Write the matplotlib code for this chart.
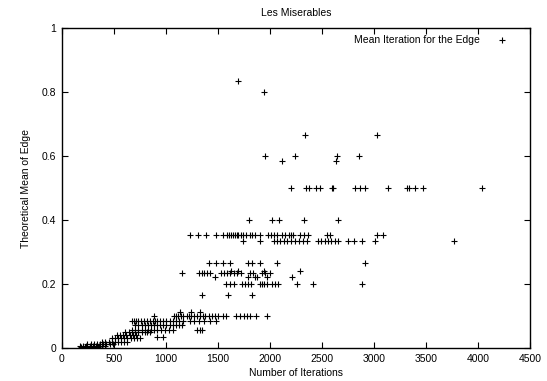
import matplotlib
matplotlib.use("Agg")
import matplotlib.pyplot as plt

plt.rcParams["font.family"] = ["Liberation Sans", "DejaVu Sans"]

# 每一行：同一个理论均值下的迭代次数
rows = {
    0.833: [1690],
    0.8: [1940],
    0.667: [2340, 3030],
    0.6: [1950, 2240, 2645, 2860],
    0.583: [2120, 2630],
    0.5: [2200, 2345, 2375, 2445, 2485, 2595, 2610, 2820, 2865, 2915,
          3130, 3320, 3340, 3395, 3475, 4040],
    0.4: [1800, 2015, 2085, 2325, 2655],
    0.353: [1230, 1305, 1385, 1485, 1550, 1585, 1610, 1630, 1645, 1660,
            1680, 1695, 1720, 1740, 1770, 1810, 1830, 1860, 1905, 1985,
            2010, 2035, 2065, 2115, 2145, 2180, 2200, 2225, 2290, 2325,
            2365, 2550, 2580, 3030, 3085],
    0.333: [1740, 1905, 2035, 2065, 2095, 2135, 2165, 2200, 2240, 2280,
            2320, 2355, 2460, 2495, 2525, 2555, 2590, 2625, 2655, 2750,
            2810, 2885, 3010, 3770],
    0.267: [1410, 1485, 1550, 1620, 1790, 1825, 1905, 2065, 2910],
    0.24: [1630, 1690, 1940, 2290],
    0.235: [1150, 1315, 1345, 1370, 1395, 1425, 1525, 1555, 1585, 1620,
            1650, 1680, 1720, 1810, 1835, 1925, 1950, 2000],
    0.222: [1470, 1790, 1855, 1875, 1975, 2210],
    0.2: [1580, 1620, 1650, 1730, 1760, 1790, 1820, 1905, 1925, 1945,
          1970, 2015, 2045, 2080, 2260, 2415, 2880],
    0.167: [1345, 1600, 1825],
    0.111: [1135, 1245, 1325],
    0.1: [885, 1080, 1100, 1120, 1145, 1165, 1200, 1220, 1245, 1270,
          1295, 1325, 1355, 1375, 1415, 1445, 1475, 1505, 1545, 1580,
          1670, 1710, 1750, 1780, 1810, 1870, 1970],
    0.083: [670, 690, 710, 735, 760, 785, 815, 845, 875, 895, 915, 945,
            975, 1005, 1040, 1070, 1100, 1130, 1165, 1230, 1270, 1315,
            1365, 1425, 1485],
    0.071: [700, 735, 765, 795, 825, 855, 885, 915, 945, 975, 1005, 1040,
            1070, 1100, 1130, 1150],
    0.056: [670, 700, 735, 765, 795, 825, 855, 885, 915, 955, 995, 1030,
            1070, 1295, 1325, 1345],
    0.05: [610, 640, 670, 700, 735, 765, 795, 815, 845],
    0.04: [530, 560, 590, 620, 650, 680, 710],
    0.035: [915, 975],
    0.03: [480, 510, 540, 570, 600, 630, 660, 690, 720, 755],
    0.02: [385, 415, 450, 480, 510, 540, 570, 600, 630],
    0.013: [245, 275, 305, 335, 365, 395, 425, 460, 490],
    0.006: [175, 205, 235, 265, 295, 325, 355, 385, 415],
    0.003: [185, 225, 265, 305, 345],
}

x_ticks = [0, 500, 1000, 1500, 2000, 2500, 3000, 3500, 4000, 4500]
y_ticks = [0, 0.2, 0.4, 0.6, 0.8, 1]
y_tick_labels = ["0", "0.2", "0.4", "0.6", "0.8", "1"]

xs = []
ys = []
for level, iters in rows.items():
    for it in iters:
        xs.append(it)
        ys.append(level)

fig = plt.figure(figsize=(5.47, 3.81), dpi=100)
ax = fig.add_axes([0.1133, 0.0866, 0.8556, 0.8399])

ax.plot(xs, ys, linestyle="none", marker="+", color="black",
        markersize=4.5, markeredgewidth=0.8,
        label="Mean Iteration for the Edge")

ax.set_xlim(0, 4500)
ax.set_ylim(0, 1)
ax.set_xticks(x_ticks)
ax.set_xticklabels([str(t) for t in x_ticks])
ax.set_yticks(y_ticks)
ax.set_yticklabels(y_tick_labels)
ax.tick_params(direction="in", length=4, width=0.8, top=True, right=True,
               labelsize=7.5, pad=4, colors="black")
for sp in ax.spines.values():
    sp.set_linewidth(1.0)

ax.set_title("Les Miserables", fontsize=7.5, pad=9)
ax.set_xlabel("Number of Iterations", fontsize=7.5, labelpad=3)
ax.set_ylabel("Theoretical Mean of Edge", fontsize=7.5, labelpad=8)

ax.legend(loc="upper right", bbox_to_anchor=(0.972, 1.0), frameon=False,
          markerfirst=False, fontsize=7.5, handlelength=1.5,
          handletextpad=1.4, borderaxespad=0.3)

fig.savefig("out.png", dpi=100)
